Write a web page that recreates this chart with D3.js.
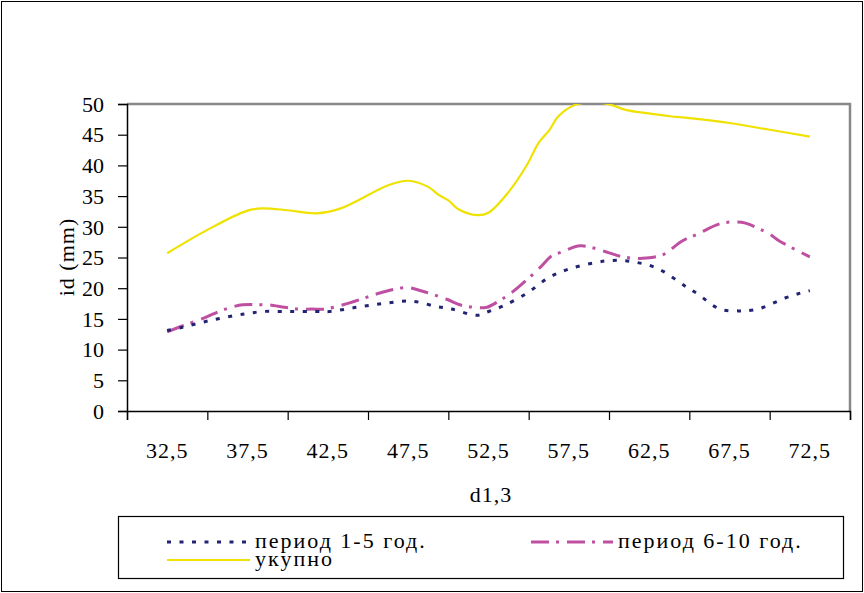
<!DOCTYPE html>
<html>
<head>
<meta charset="utf-8">
<script src="https://cdn.jsdelivr.net/npm/d3@7"></script>
<style>
html,body{margin:0;padding:0;background:#fff;}
svg{display:block;}
svg text{font-family:"Liberation Serif","DejaVu Serif",serif;fill:#000;}
</style>
</head>
<body>
<svg id="chart" width="864" height="593"></svg>
<script>
// ---- data ----
const xTickValues = [30, 35, 40, 45, 50, 55, 60, 65, 70, 75];
const xLabelValues = [32.5, 37.5, 42.5, 47.5, 52.5, 57.5, 62.5, 67.5, 72.5];
const xLabelTexts = ["32,5", "37,5", "42,5", "47,5", "52,5", "57,5", "62,5", "67,5", "72,5"];
const yTickValues = [0, 5, 10, 15, 20, 25, 30, 35, 40, 45, 50];

const seriesNames = ["период 1-5 год.", "период 6-10 год.", "укупно"];

const d13_p15 = [32.5, 33.4, 35.1, 36.8, 37.6, 38.4, 40.1, 41.7, 42.6, 44.3, 45.95, 47.66, 49.3, 50.2, 51.8, 52.5, 53.4, 54.9, 56.3, 57.6, 59.2, 60.06, 60.9, 61.7, 62.55, 63.4, 64.7, 65.5, 66.9, 68.05, 68.5, 69.4, 70.96, 71.9, 72.5];
const id_p15 = [13.1, 13.6, 14.7, 15.6, 15.9, 16.2, 16.2, 16.2, 16.2, 16.9, 17.5, 17.9, 17.0, 16.6, 15.6, 16.2, 17.1, 19.2, 21.8, 23.2, 24.2, 24.5, 24.5, 24.2, 23.7, 22.7, 20.4, 19.1, 16.6, 16.3, 16.3, 16.7, 18.4, 19.2, 19.6];

const d13_p610 = [32.5, 33.4, 34.85, 35.8, 36.5, 37.2, 38.5, 39.1, 39.8, 40.66, 41.5, 42.3, 43.46, 44.9, 45.85, 47.4, 48.4, 49.9, 50.7, 51.55, 52.4, 53.2, 54.0, 54.9, 55.8, 56.4, 57.05, 58.2, 59.1, 59.96, 60.7, 61.45, 62.3, 63.4, 64.5, 65.5, 66.9, 67.95, 68.5, 70.0, 70.6, 72.5];
const id_p610 = [12.9, 13.8, 15.2, 16.3, 16.9, 17.3, 17.3, 17.2, 16.9, 16.6, 16.6, 16.6, 17.3, 18.5, 19.3, 20.1, 19.5, 18.2, 17.3, 16.9, 16.9, 18.0, 19.4, 21.4, 23.6, 25.2, 25.9, 26.9, 26.5, 25.8, 25.2, 24.9, 24.9, 25.5, 27.6, 28.8, 30.5, 30.8, 30.6, 28.8, 27.7, 25.1];

const d13_total = [32.5, 35.0, 37.45, 38.4, 40.0, 41.8, 43.3, 46.3, 47.5, 48.75, 49.4, 50.0, 50.6, 51.8, 52.5, 53.7, 54.9, 55.6, 56.3, 56.85, 58.0, 59.75, 61.1, 62.35, 63.8, 65.0, 67.5, 70.0, 72.5];
const id_total = [25.7, 29.5, 32.6, 33.0, 32.7, 32.2, 33.0, 36.8, 37.5, 36.5, 35.2, 34.3, 32.9, 31.9, 32.3, 35.5, 40.1, 43.6, 45.8, 48.0, 49.95, 50.1, 49.0, 48.5, 48.0, 47.7, 46.9, 45.8, 44.7];

const colors = ["#232373", "#bf4fa0", "#f0e200"];
const dashes = ["4,8.5", "18,7,3,8", null];

// ---- layout ----
const FONT = "Liberation Serif, DejaVu Serif, serif";
const FS = 22;
const svg = d3.select("#chart");
const W = 864, H = 593;
const plot = {left: 127, right: 850, top: 104, bottom: 411};

svg.append("rect").attr("x", 1.5).attr("y", 1.5).attr("width", W - 3).attr("height", H - 3)
  .attr("fill", "#fff").attr("stroke", "#000").attr("stroke-width", 1);

svg.append("defs").append("clipPath").attr("id", "plotclip")
  .append("rect").attr("x", plot.left).attr("y", plot.top)
  .attr("width", plot.right - plot.left).attr("height", plot.bottom - plot.top);

const x = d3.scaleLinear().domain([30, 75]).range([plot.left, plot.right]);
const y = d3.scaleLinear().domain([0, 50]).range([plot.bottom, plot.top]);

// plot area frame (top & right grey)
svg.append("path")
  .attr("d", `M${plot.left},${plot.top}H${plot.right}V${plot.bottom}`)
  .attr("fill", "none").attr("stroke", "#888").attr("stroke-width", 2.5);

// y axis
const yAxis = d3.axisLeft(y).tickValues(yTickValues).tickSize(9).tickPadding(14).tickFormat(d3.format("d"));
const gy = svg.append("g").attr("transform", `translate(${plot.left},0)`).call(yAxis)
  .attr("font-family", FONT).attr("font-size", FS);
gy.select(".domain").attr("stroke", "#000").attr("stroke-width", 1.5);
gy.selectAll(".tick line").attr("stroke", "#000").attr("stroke-width", 1.2);
gy.selectAll(".tick text").attr("dy", "0.33em");

// x axis ticks
const xAxis = d3.axisBottom(x).tickValues(xTickValues).tickSize(9).tickFormat("");
const gx = svg.append("g").attr("transform", `translate(0,${plot.bottom})`).call(xAxis);
gx.select(".domain").attr("stroke", "#000").attr("stroke-width", 1.5);
gx.selectAll(".tick line").attr("stroke", "#000").attr("stroke-width", 1.2);

// x labels
const labels = xLabelValues.map((v, i) => ({v, t: xLabelTexts[i]}));
svg.append("g").attr("font-family", FONT).attr("font-size", FS)
  .selectAll("text").data(labels).join("text")
  .attr("x", d => x(d.v)).attr("y", 458)
  .attr("text-anchor", "middle").attr("letter-spacing", 1)
  .text(d => d.t);

// axis titles
svg.append("text").attr("x", 491).attr("y", 502).attr("text-anchor", "middle")
  .attr("font-family", FONT).attr("font-size", FS).attr("letter-spacing", 1).text("d1,3");
svg.append("text").attr("transform", "translate(74,257) rotate(-90)").attr("text-anchor", "middle")
  .attr("font-family", FONT).attr("font-size", FS).attr("letter-spacing", 1).text("id (mm)");

// lines
const line = d3.line().x(d => x(d[0])).y(d => y(d[1])).curve(d3.curveCatmullRom.alpha(0.5));
const series = [
  d13_p15.map((v, i) => [v, id_p15[i]]),
  d13_p610.map((v, i) => [v, id_p610[i]]),
  d13_total.map((v, i) => [v, id_total[i]])
];
const widths = [3, 3, 2.2];
const gl = svg.append("g").attr("clip-path", "url(#plotclip)");
[2, 1, 0].forEach(i => {
  gl.append("path").datum(series[i]).attr("d", line)
    .attr("fill", "none").attr("stroke", colors[i]).attr("stroke-width", widths[i])
    .attr("stroke-dasharray", dashes[i]);
});

// legend
const lg = svg.append("g").attr("font-family", FONT).attr("font-size", FS);
lg.append("rect").attr("x", 118.5).attr("y", 516.5).attr("width", 725).attr("height", 62)
  .attr("fill", "#fff").attr("stroke", "#000").attr("stroke-width", 1.2);
const legendItems = [
  {i: 0, x0: 167, x1: 250, ly: 542, ty: 548},
  {i: 1, x0: 531, x1: 613, ly: 542, ty: 548},
  {i: 2, x0: 167, x1: 250, ly: 560, ty: 566}
];
legendItems.forEach(d => {
  lg.append("line").attr("x1", d.x0).attr("x2", d.x1).attr("y1", d.ly).attr("y2", d.ly)
    .attr("stroke", colors[d.i]).attr("stroke-width", widths[d.i]).attr("stroke-dasharray", dashes[d.i]);
  lg.append("text").attr("x", d.x1 + 5).attr("y", d.ty).attr("letter-spacing", 2)
    .text(seriesNames[d.i]);
});
</script>
</body>
</html>
